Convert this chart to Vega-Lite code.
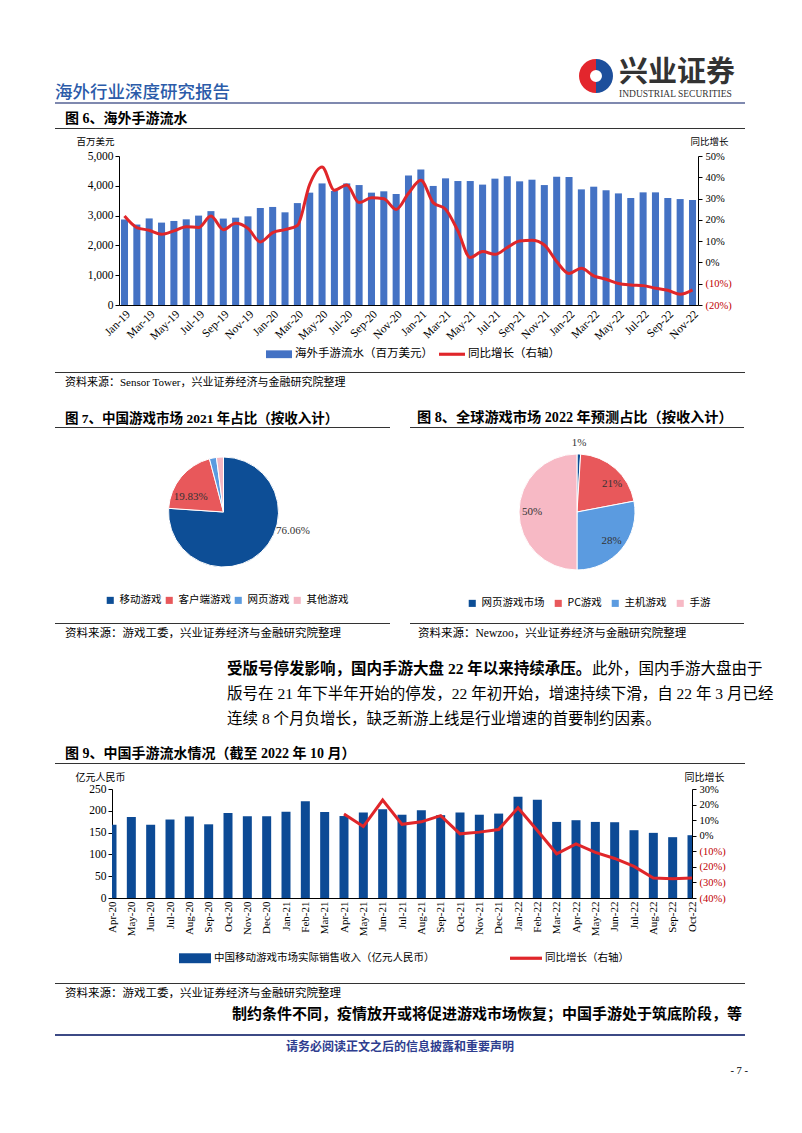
{
"$schema": "https://vega.github.io/schema/vega-lite/v6.json",
"background": "white",
"padding": {"left": 55, "top": 58, "right": 0, "bottom": 0},
"spacing": 0,
"config": {
  "view": {"stroke": null},
  "font": "Liberation Serif, Noto Sans CJK SC",
  "title": {"font": "Liberation Serif, Noto Sans CJK SC", "color": "#000000", "anchor": "start", "frame": "group", "fontWeight": "normal"},
  "axis": {"labelFont": "Liberation Serif", "labelColor": "#000000", "domainColor": "#000000", "tickColor": "#000000", "grid": false, "titleFont": "Noto Sans CJK SC", "titleColor": "#000000", "titleFontWeight": "normal", "labelOverlap": false},
  "legend": {"labelFont": "Noto Sans CJK SC", "labelColor": "#000000", "labelLimit": 400}
},
"resolve": {"scale": {"color": "independent"}, "legend": {"color": "independent"}},
"vconcat": [
  {
    "spacing": 0,
    "resolve": {"scale": {"color": "independent"}, "legend": {"color": "independent"}},
    "hconcat": [
      {"width": 523, "height": 26, "data": {"values": []}, "mark": "point",
       "title": {"text": "海外行业深度研究报告", "orient": "bottom", "anchor": "start", "offset": 0, "fontSize": 17.5, "fontWeight": 500, "color": "#2B5BA9", "font": "Noto Sans CJK SC"}},
      {"width": 36, "height": 36, "data": {"values": [{"k": "b", "v": 1}, {"k": "r", "v": 1}]},
       "mark": {"type": "arc", "innerRadius": 6, "outerRadius": 17},
       "encoding": {"theta": {"field": "v", "type": "quantitative"}, "color": {"field": "k", "type": "nominal", "scale": {"domain": ["b", "r"], "range": ["#1D4F9C", "#E3262D"]}, "legend": null}}},
      {"width": 125, "height": 1, "data": {"values": []}, "mark": "point",
       "title": {"text": "兴业证券", "subtitle": "INDUSTRIAL SECURITIES", "orient": "bottom", "anchor": "start", "dx": 5, "offset": 0, "fontSize": 29, "fontWeight": "bold", "color": "#333333", "font": "Noto Sans CJK SC", "subtitleFont": "Liberation Serif", "subtitleFontSize": 9.5, "subtitleColor": "#333333", "subtitlePadding": 1}}
    ]
  },
  {"width": 690, "height": 2, "data": {"values": [{"a": 0, "b": 1}]}, "mark": {"type": "rect", "color": "#7F89AF"},
   "encoding": {"x": {"field": "a", "type": "quantitative", "scale": {"domain": [0, 1]}, "axis": null}, "x2": {"field": "b"}}},
  {"width": 1, "height": 8, "data": {"values": []}, "mark": "point"},
  {"width": 690, "height": 1, "data": {"values": [{"a": 0, "b": 1}]}, "mark": {"type": "rect", "color": "#333333"},
   "encoding": {"x": {"field": "a", "type": "quantitative", "scale": {"domain": [0, 1]}, "axis": null}, "x2": {"field": "b"}},
   "title": {"text": "图 6、海外手游流水", "orient": "top", "anchor": "start", "dx": 10, "offset": 2, "fontSize": 14, "fontWeight": "bold"}},
  {"width": 1, "height": 7, "data": {"values": []}, "mark": "point"},
  {
    "spacing": 0,
    "resolve": {"scale": {"color": "independent"}, "legend": {"color": "independent"}},
    "hconcat": [
      {"width": 20, "height": 1, "data": {"values": []}, "mark": "point"},
      {
        "width": 579, "height": 149,
        "data": {"values": [
          {"m": "Jan-19", "v": 2870, "g": 21.8}, {"m": "Feb-19", "v": 2700, "g": 16.4}, {"m": "Mar-19", "v": 2905, "g": 15.1},
          {"m": "Apr-19", "v": 2765, "g": 13.2}, {"m": "May-19", "v": 2820, "g": 14.8}, {"m": "Jun-19", "v": 2875, "g": 16.8},
          {"m": "Jul-19", "v": 3000, "g": 16.4}, {"m": "Aug-19", "v": 3150, "g": 21.8}, {"m": "Sep-19", "v": 2900, "g": 15.4},
          {"m": "Oct-19", "v": 2930, "g": 18.4}, {"m": "Nov-19", "v": 2975, "g": 16.0}, {"m": "Dec-19", "v": 3255, "g": 9.6},
          {"m": "Jan-20", "v": 3290, "g": 14.0}, {"m": "Feb-20", "v": 3110, "g": 15.4}, {"m": "Mar-20", "v": 3420, "g": 17.3},
          {"m": "Apr-20", "v": 3770, "g": 36.7}, {"m": "May-20", "v": 4080, "g": 44.8}, {"m": "Jun-20", "v": 3825, "g": 33.9},
          {"m": "Jul-20", "v": 4080, "g": 36.4}, {"m": "Aug-20", "v": 4025, "g": 28.1}, {"m": "Sep-20", "v": 3770, "g": 30.4},
          {"m": "Oct-20", "v": 3815, "g": 29.9}, {"m": "Nov-20", "v": 3725, "g": 24.9}, {"m": "Dec-20", "v": 4345, "g": 32.5},
          {"m": "Jan-21", "v": 4550, "g": 38.6}, {"m": "Feb-21", "v": 3995, "g": 28.1}, {"m": "Mar-21", "v": 4250, "g": 25.0},
          {"m": "Apr-21", "v": 4160, "g": 14.8}, {"m": "May-21", "v": 4160, "g": 2.3}, {"m": "Jun-21", "v": 4040, "g": 5.1},
          {"m": "Jul-21", "v": 4240, "g": 3.8}, {"m": "Aug-21", "v": 4320, "g": 7.0}, {"m": "Sep-21", "v": 4150, "g": 10.1},
          {"m": "Oct-21", "v": 4205, "g": 10.4}, {"m": "Nov-21", "v": 4025, "g": 8.2}, {"m": "Dec-21", "v": 4305, "g": 0.4},
          {"m": "Jan-22", "v": 4295, "g": -5.2}, {"m": "Feb-22", "v": 3880, "g": -2.7}, {"m": "Mar-22", "v": 3970, "g": -6.3},
          {"m": "Apr-22", "v": 3850, "g": -7.9}, {"m": "May-22", "v": 3745, "g": -9.9}, {"m": "Jun-22", "v": 3590, "g": -10.6},
          {"m": "Jul-22", "v": 3780, "g": -10.9}, {"m": "Aug-22", "v": 3780, "g": -12.1}, {"m": "Sep-22", "v": 3590, "g": -13.1},
          {"m": "Oct-22", "v": 3555, "g": -15.0}, {"m": "Nov-22", "v": 3525, "g": -12.9}
        ]},
        "encoding": {"x": {"field": "m", "type": "ordinal", "sort": null, "scale": {"paddingInner": 0.43, "paddingOuter": 0.16},
          "axis": {"values": ["Jan-19","Mar-19","May-19","Jul-19","Sep-19","Nov-19","Jan-20","Mar-20","May-20","Jul-20","Sep-20","Nov-20","Jan-21","Mar-21","May-21","Jul-21","Sep-21","Nov-21","Jan-22","Mar-22","May-22","Jul-22","Sep-22","Nov-22"],
                   "labelAngle": -45, "labelFontSize": 11.5, "ticks": false, "labelPadding": 3, "title": null}}},
        "layer": [
          {"mark": {"type": "bar"},
           "encoding": {
             "y": {"field": "v", "type": "quantitative", "scale": {"domain": [0, 5000], "nice": false},
                   "axis": {"orient": "left", "values": [0, 1000, 2000, 3000, 4000, 5000], "format": ",d", "labelFontSize": 11.5, "tickSize": 4, "labelPadding": 2,
                            "title": "百万美元", "titleAngle": 0, "titleX": -24, "titleY": -15, "titleAlign": "center", "titleBaseline": "middle", "titleFontSize": 9.5}},
             "color": {"datum": "海外手游流水（百万美元）", "type": "nominal",
                       "scale": {"domain": ["海外手游流水（百万美元）", "同比增长（右轴）"], "range": ["#4472C4", "#E0262A"]},
                       "legend": {"orient": "none", "legendX": 147, "legendY": 185, "direction": "horizontal", "title": null,
                                  "labelFontSize": 11.5, "symbolSize": 676, "columnPadding": 6, "labelOffset": 3,
                                  "encode": {"symbols": {"update": {
                                    "shape": {"signal": "datum.value === '同比增长（右轴）' ? 'M-1,-0.12H1V0.12H-1Z' : 'M-1,-0.3H1V0.3H-1Z'"},
                                    "fill": {"signal": "datum.value === '同比增长（右轴）' ? '#E0262A' : '#4472C4'"},
                                    "stroke": {"value": "transparent"}, "strokeWidth": {"value": 0}, "opacity": {"value": 1}}}}}}
           }},
          {"mark": {"type": "line", "strokeWidth": 3, "interpolate": "monotone"},
           "encoding": {
             "y": {"field": "g", "type": "quantitative", "scale": {"domain": [-20, 50], "nice": false},
                   "axis": {"orient": "right", "values": [-20, -10, 0, 10, 20, 30, 40, 50], "labelFontSize": 10.5, "tickSize": 4, "labelPadding": 3,
                            "labelExpr": "datum.value < 0 ? '(' + (-datum.value) + '%)' : datum.value + '%'",
                            "labelColor": {"condition": {"test": "datum.value < 0", "value": "#C00000"}, "value": "#000000"},
                            "title": "同比增长", "titleAngle": 0, "titleX": 11, "titleY": -15, "titleAlign": "center", "titleBaseline": "middle", "titleFontSize": 9.5}},
             "color": {"datum": "同比增长（右轴）", "type": "nominal"}
           }}
        ],
        "resolve": {"scale": {"y": "independent"}}
      }
    ]
  },
  {"width": 1, "height": 12, "data": {"values": []}, "mark": "point"},
  {"width": 690, "height": 1, "data": {"values": [{"a": 0, "b": 1}]}, "mark": {"type": "rect", "color": "#333333"},
   "encoding": {"x": {"field": "a", "type": "quantitative", "scale": {"domain": [0, 1]}, "axis": null}, "x2": {"field": "b"}},
   "title": {"text": "资料来源：Sensor Tower，兴业证券经济与金融研究院整理", "orient": "bottom", "anchor": "start", "dx": 10, "offset": 4, "fontSize": 11}},
  {"width": 1, "height": 22, "data": {"values": []}, "mark": "point"},
  {
    "spacing": 18,
    "resolve": {"scale": {"color": "independent"}, "legend": {"color": "independent"}},
    "hconcat": [
      {
        "spacing": 0,
        "resolve": {"scale": {"color": "independent"}, "legend": {"color": "independent"}},
        "vconcat": [
          {"width": 335, "height": 1, "data": {"values": [{"a": 0, "b": 1}]}, "mark": {"type": "rect", "color": "#333333"},
           "encoding": {"x": {"field": "a", "type": "quantitative", "scale": {"domain": [0, 1]}, "axis": null}, "x2": {"field": "b"}},
           "title": {"text": "图 7、中国游戏市场 2021 年占比（按收入计）", "orient": "top", "anchor": "start", "dx": 10, "offset": 2, "fontSize": 13.5, "fontWeight": "bold"}},
          {
            "width": 337, "height": 168,
            "data": {"values": [
              {"cat": "移动游戏", "v": 76.06, "lab": "76.06%", "i": 1},
              {"cat": "客户端游戏", "v": 19.83, "lab": "19.83%", "i": 2},
              {"cat": "网页游戏", "v": 2.06, "lab": "", "i": 3},
              {"cat": "其他游戏", "v": 2.05, "lab": "", "i": 4}
            ]},
            "encoding": {"theta": {"field": "v", "type": "quantitative", "stack": true}, "order": {"field": "i", "type": "quantitative"}},
            "layer": [
              {"mark": {"type": "arc", "outerRadius": 55, "stroke": "#ffffff", "strokeWidth": 1},
               "encoding": {"color": {"field": "cat", "type": "nominal",
                 "scale": {"domain": ["移动游戏", "客户端游戏", "网页游戏", "其他游戏"], "range": ["#0D4E96", "#E8585B", "#5B9BE0", "#F4B6C2"]},
                 "legend": {"orient": "none", "legendX": 50, "legendY": 167, "direction": "horizontal", "title": null, "symbolType": "square", "symbolSize": 50,
                            "labelFontSize": 10.5, "columnPadding": 2, "labelOffset": 4, "symbolStrokeWidth": 0}}}},
              {"mark": {"type": "text", "radius": 72, "thetaOffset": -0.55, "fontSize": 11, "font": "Liberation Serif", "color": "#333333"},
               "encoding": {"text": {"condition": {"test": "datum.cat === '移动游戏'", "field": "lab", "type": "nominal"}, "value": ""}}},
              {"mark": {"type": "text", "radius": 36, "thetaOffset": -0.27, "fontSize": 11, "font": "Liberation Serif", "color": "#333333"},
               "encoding": {"text": {"condition": {"test": "datum.cat === '客户端游戏'", "field": "lab", "type": "nominal"}, "value": ""}}}
            ]
          },
          {"width": 1, "height": 17, "data": {"values": []}, "mark": "point"},
          {"width": 335, "height": 1, "data": {"values": [{"a": 0, "b": 1}]}, "mark": {"type": "rect", "color": "#333333"},
           "encoding": {"x": {"field": "a", "type": "quantitative", "scale": {"domain": [0, 1]}, "axis": null}, "x2": {"field": "b"}},
           "title": {"text": "资料来源：游戏工委，兴业证券经济与金融研究院整理", "orient": "bottom", "anchor": "start", "dx": 10, "offset": 4, "fontSize": 11.5}}
        ]
      },
      {
        "spacing": 0,
        "resolve": {"scale": {"color": "independent"}, "legend": {"color": "independent"}},
        "vconcat": [
          {"width": 334, "height": 1, "data": {"values": [{"a": 0, "b": 1}]}, "mark": {"type": "rect", "color": "#333333"},
           "encoding": {"x": {"field": "a", "type": "quantitative", "scale": {"domain": [0, 1]}, "axis": null}, "x2": {"field": "b"}},
           "title": {"text": "图 8、全球游戏市场 2022 年预测占比（按收入计）", "orient": "top", "anchor": "start", "dx": 7, "offset": 2, "fontSize": 14.2, "fontWeight": "bold"}},
          {
            "width": 334, "height": 168,
            "data": {"values": [
              {"cat": "网页游戏市场", "v": 1, "lab": "1%", "i": 1},
              {"cat": "PC游戏", "v": 21, "lab": "21%", "i": 2},
              {"cat": "主机游戏", "v": 28, "lab": "28%", "i": 3},
              {"cat": "手游", "v": 50, "lab": "50%", "i": 4}
            ]},
            "encoding": {"theta": {"field": "v", "type": "quantitative", "stack": true}, "order": {"field": "i", "type": "quantitative"}},
            "layer": [
              {"mark": {"type": "arc", "outerRadius": 58, "stroke": "#ffffff", "strokeWidth": 1},
               "encoding": {"color": {"field": "cat", "type": "nominal",
                 "scale": {"domain": ["网页游戏市场", "PC游戏", "主机游戏", "手游"], "range": ["#0D4E96", "#E8585B", "#5B9BE0", "#F7B9C5"]},
                 "legend": {"orient": "none", "legendX": 57, "legendY": 170, "direction": "horizontal", "title": null, "symbolType": "square", "symbolSize": 50,
                            "labelFontSize": 10.5, "columnPadding": 8, "labelOffset": 4, "symbolStrokeWidth": 0}}}},
              {"mark": {"type": "text", "radius": 69, "fontSize": 11, "font": "Liberation Serif", "color": "#333333"},
               "encoding": {"text": {"condition": {"test": "datum.cat === '网页游戏市场'", "field": "lab", "type": "nominal"}, "value": ""}}},
              {"mark": {"type": "text", "radius": 45, "thetaOffset": 0.17, "fontSize": 11, "font": "Liberation Serif", "color": "#333333"},
               "encoding": {"text": {"condition": {"test": "datum.cat === 'PC游戏'", "field": "lab", "type": "nominal"}, "value": ""}}},
              {"mark": {"type": "text", "radius": 45, "fontSize": 11, "font": "Liberation Serif", "color": "#333333"},
               "encoding": {"text": {"condition": {"test": "datum.cat === '主机游戏' || datum.cat === '手游'", "field": "lab", "type": "nominal"}, "value": ""}}}
            ]
          },
          {"width": 1, "height": 14, "data": {"values": []}, "mark": "point"},
          {"width": 334, "height": 1, "data": {"values": [{"a": 0, "b": 1}]}, "mark": {"type": "rect", "color": "#333333"},
           "encoding": {"x": {"field": "a", "type": "quantitative", "scale": {"domain": [0, 1]}, "axis": null}, "x2": {"field": "b"}},
           "title": {"text": "资料来源：Newzoo，兴业证券经济与金融研究院整理", "orient": "bottom", "anchor": "start", "dx": 8, "offset": 4, "fontSize": 11.5}}
        ]
      }
    ]
  },
  {"width": 1, "height": 21, "data": {"values": []}, "mark": "point"},
  {
    "spacing": 0,
    "hconcat": [
      {"width": 1, "height": 1, "data": {"values": []}, "mark": "point",
       "title": {"text": "受版号停发影响，国内手游大盘 22 年以来持续承压。", "orient": "bottom", "anchor": "start", "dx": 172, "offset": 0, "fontSize": 15.5, "fontWeight": "bold"}},
      {"width": 1, "height": 1, "data": {"values": []}, "mark": "point",
       "title": {"text": "此外，国内手游大盘由于", "orient": "bottom", "anchor": "start", "offset": 0, "fontSize": 15.5}}
    ]
  },
  {"width": 1, "height": 1, "data": {"values": []}, "mark": "point",
   "title": {"text": ["版号在 21 年下半年开始的停发，22 年初开始，增速持续下滑，自 22 年 3 月已经", "连续 8 个月负增长，缺乏新游上线是行业增速的首要制约因素。"], "lineHeight": 25, "orient": "bottom", "anchor": "start", "dx": 172, "offset": 8, "fontSize": 15.5}},
  {"width": 1, "height": 19, "data": {"values": []}, "mark": "point"},
  {"width": 690, "height": 1, "data": {"values": [{"a": 0, "b": 1}]}, "mark": {"type": "rect", "color": "#333333"},
   "encoding": {"x": {"field": "a", "type": "quantitative", "scale": {"domain": [0, 1]}, "axis": null}, "x2": {"field": "b"}},
   "title": {"text": "图 9、中国手游流水情况（截至 2022 年 10 月）", "orient": "top", "anchor": "start", "dx": 10, "offset": 2, "fontSize": 14, "fontWeight": "bold"}},
  {"width": 1, "height": 8, "data": {"values": []}, "mark": "point"},
  {
    "spacing": 0,
    "resolve": {"scale": {"color": "independent"}, "legend": {"color": "independent"}},
    "hconcat": [
      {"width": 20, "height": 1, "data": {"values": []}, "mark": "point"},
      {
        "width": 580, "height": 109,
        "data": {"values": [
          {"m": "Apr-20", "v": 168}, {"m": "May-20", "v": 186}, {"m": "Jun-20", "v": 168}, {"m": "Jul-20", "v": 180},
          {"m": "Aug-20", "v": 187}, {"m": "Sep-20", "v": 169}, {"m": "Oct-20", "v": 195}, {"m": "Nov-20", "v": 187.5},
          {"m": "Dec-20", "v": 187.5}, {"m": "Jan-21", "v": 198}, {"m": "Feb-21", "v": 222}, {"m": "Mar-21", "v": 197},
          {"m": "Apr-21", "v": 188, "g": 14.0}, {"m": "May-21", "v": 196, "g": 5.9}, {"m": "Jun-21", "v": 203.5, "g": 22.9},
          {"m": "Jul-21", "v": 191, "g": 7.3}, {"m": "Aug-21", "v": 201, "g": 8.9}, {"m": "Sep-21", "v": 190, "g": 12.9},
          {"m": "Oct-21", "v": 196, "g": 1.2}, {"m": "Nov-21", "v": 191, "g": 2.3}, {"m": "Dec-21", "v": 193.6, "g": 4.0},
          {"m": "Jan-22", "v": 232.5, "g": 18.0}, {"m": "Feb-22", "v": 225.6, "g": 3.3}, {"m": "Mar-22", "v": 174.5, "g": -11.6},
          {"m": "Apr-22", "v": 178.4, "g": -5.2}, {"m": "May-22", "v": 174.5, "g": -10.7}, {"m": "Jun-22", "v": 173.8, "g": -14.6},
          {"m": "Jul-22", "v": 155.5, "g": -19.7}, {"m": "Aug-22", "v": 149.4, "g": -27.2}, {"m": "Sep-22", "v": 139.5, "g": -27.6},
          {"m": "Oct-22", "v": 144, "g": -27.2}
        ]},
        "encoding": {"x": {"field": "m", "type": "ordinal", "sort": null, "scale": {"type": "point", "padding": 0},
          "axis": {"labelAngle": -90, "labelFontSize": 11, "ticks": false, "labelPadding": 3, "title": null}}},
        "layer": [
          {"mark": {"type": "bar", "width": 9, "clip": true},
           "encoding": {
             "y": {"field": "v", "type": "quantitative", "scale": {"domain": [0, 250], "nice": false},
                   "axis": {"orient": "left", "values": [0, 50, 100, 150, 200, 250], "labelFontSize": 11.5, "tickSize": 4, "labelPadding": 2,
                            "title": "亿元人民币", "titleAngle": 0, "titleX": -12, "titleY": -12, "titleAlign": "center", "titleBaseline": "middle", "titleFontSize": 10}},
             "color": {"datum": "中国移动游戏市场实际销售收入（亿元人民币）", "type": "nominal",
                       "scale": {"domain": ["中国移动游戏市场实际销售收入（亿元人民币）", "同比增长（右轴）"], "range": ["#0C4A95", "#E0262A"]},
                       "legend": {"orient": "none", "legendX": 67, "legendY": 153, "direction": "horizontal", "title": null,
                                  "labelFontSize": 10.5, "symbolSize": 1024, "columnPadding": 75, "labelOffset": 3, "labelLimit": 400,
                                  "encode": {"symbols": {"update": {
                                    "shape": {"signal": "datum.value === '同比增长（右轴）' ? 'M-1,-0.1H1V0.1H-1Z' : 'M-1,-0.31H1V0.31H-1Z'"},
                                    "fill": {"signal": "datum.value === '同比增长（右轴）' ? '#E0262A' : '#0C4A95'"},
                                    "stroke": {"value": "transparent"}, "strokeWidth": {"value": 0}, "opacity": {"value": 1}}}}}}
           }},
          {"mark": {"type": "line", "strokeWidth": 3},
           "encoding": {
             "y": {"field": "g", "type": "quantitative", "scale": {"domain": [-40, 30], "nice": false},
                   "axis": {"orient": "right", "values": [-40, -30, -20, -10, 0, 10, 20, 30], "labelFontSize": 10.5, "tickSize": 4, "labelPadding": 3,
                            "labelExpr": "datum.value < 0 ? '(' + (-datum.value) + '%)' : datum.value + '%'",
                            "labelColor": {"condition": {"test": "datum.value < 0", "value": "#C00000"}, "value": "#000000"},
                            "title": "同比增长", "titleAngle": 0, "titleX": 12, "titleY": -12, "titleAlign": "center", "titleBaseline": "middle", "titleFontSize": 10}},
             "color": {"datum": "同比增长（右轴）", "type": "nominal"}
           }}
        ],
        "resolve": {"scale": {"y": "independent"}}
      }
    ]
  },
  {"width": 1, "height": 19, "data": {"values": []}, "mark": "point"},
  {"width": 690, "height": 1, "data": {"values": [{"a": 0, "b": 1}]}, "mark": {"type": "rect", "color": "#333333"},
   "encoding": {"x": {"field": "a", "type": "quantitative", "scale": {"domain": [0, 1]}, "axis": null}, "x2": {"field": "b"}},
   "title": {"text": "资料来源：游戏工委，兴业证券经济与金融研究院整理", "orient": "bottom", "anchor": "start", "dx": 10, "offset": 4, "fontSize": 11.5}},
  {"width": 1, "height": 6, "data": {"values": []}, "mark": "point"},
  {"width": 1, "height": 1, "data": {"values": []}, "mark": "point",
   "title": {"text": "制约条件不同，疫情放开或将促进游戏市场恢复；中国手游处于筑底阶段，等", "orient": "bottom", "anchor": "start", "dx": 177, "offset": 0, "fontSize": 15, "fontWeight": "bold"}},
  {"width": 1, "height": 12, "data": {"values": []}, "mark": "point"},
  {"width": 690, "height": 2, "data": {"values": [{"a": 0, "b": 1}]}, "mark": {"type": "rect", "color": "#3C4A85"},
   "encoding": {"x": {"field": "a", "type": "quantitative", "scale": {"domain": [0, 1]}, "axis": null}, "x2": {"field": "b"}},
   "title": {"text": "请务必阅读正文之后的信息披露和重要声明", "orient": "bottom", "anchor": "middle", "offset": 6, "fontSize": 12, "fontWeight": "bold", "color": "#2E3D8F", "font": "Noto Sans CJK SC"}},
  {"width": 690, "height": 1, "data": {"values": []}, "mark": "point",
   "title": {"text": "- 7 -", "orient": "bottom", "anchor": "end", "dx": 3, "offset": 12, "fontSize": 10.5, "font": "Liberation Serif"}}
]
}
